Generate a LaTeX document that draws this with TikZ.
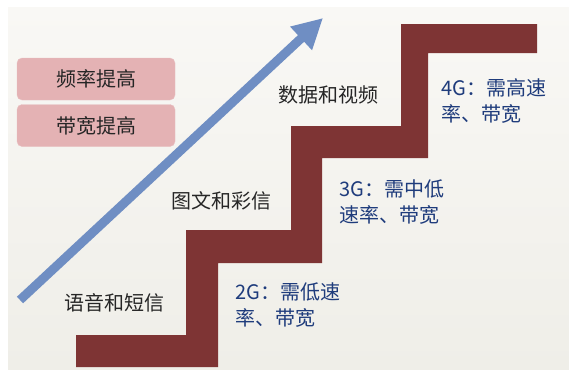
\documentclass[tikz,border=0pt]{standalone}
\usepackage{fontspec}
\newfontfamily\cjk{Noto Sans CJK SC}
\usetikzlibrary{arrows.meta}
\definecolor{stairred}{HTML}{7E3434}
\definecolor{boxpink}{HTML}{E4B2B4}
\definecolor{arrowblue}{HTML}{6F8EC3}
\definecolor{textblue}{HTML}{1F3C7C}
\definecolor{bgtop}{HTML}{F9F8F5}
\definecolor{bgbot}{HTML}{EFEEE8}
\tikzset{
  lbl/.style={inner sep=0pt, anchor=west, font=\cjk\fontsize{20}{26}\selectfont, text=black!85},
  gen/.style={inner sep=0pt, anchor=west, align=left, font=\cjk\fontsize{20}{26}\selectfont, text=textblue},
  pinkbox/.style={fill=boxpink, draw=boxpink!80!white, rounded corners=5pt, minimum width=158pt, minimum height=42pt, inner sep=0pt, font=\cjk\fontsize{20}{26}\selectfont, text=black!85},
}
\begin{document}
\begin{tikzpicture}[x=1pt,y=-1pt]
\useasboundingbox (0,0) rectangle (569,370);
\fill[white] (0,0) rectangle (569,370);
\shade[top color=bgtop, bottom color=bgbot] (8,7) rectangle (569,369);
% staircase
\fill[stairred] (76,335) -- (186,335) -- (186,230) -- (291,230) -- (291,126) -- (401,126) -- (401,24) -- (537,24) -- (537,53) -- (428,53) -- (428,158) -- (322,158) -- (322,263) -- (218,263) -- (218,367) -- (76,367) -- cycle;
% arrow
\coordinate (atail) at (20,300);
\coordinate (atip) at (323,18);
\draw[arrowblue, line width=9pt, -{Triangle[width=30pt,length=30pt]}] (atail) -- (atip);
% pink boxes
\node[pinkbox] (b1) at (96,79) {频率提高};
\node[pinkbox] (b2) at (96,125.5) {带宽提高};
% labels
\node[lbl] (l1) at (64,303) {语音和短信};
\node[lbl] (l2) at (171,201) {图文和彩信};
\node[lbl] (l3) at (278,95) {数据和视频};
\node[gen] (g2) at (235,305) {2G：需低速\\率、带宽};
\node[gen] (g3) at (339,202) {3G：需中低\\速率、带宽};
\node[gen] (g4) at (441,101) {4G：需高速\\率、带宽};
\end{tikzpicture}
\end{document}
